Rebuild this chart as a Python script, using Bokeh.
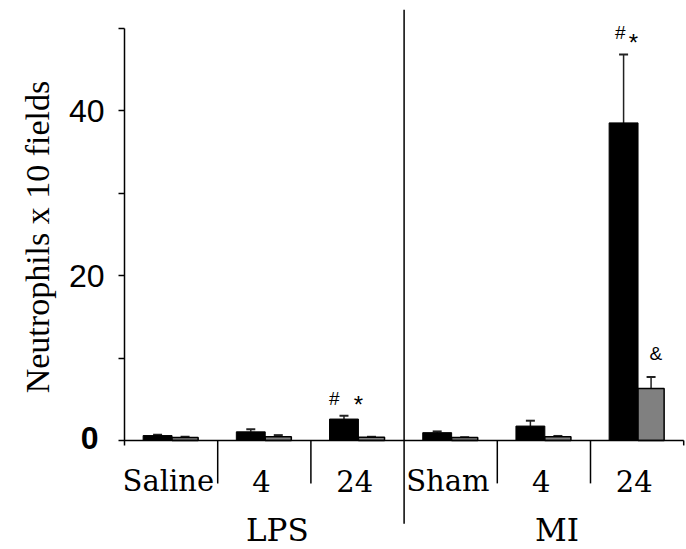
from bokeh.plotting import figure
from bokeh.models import Range1d, FixedTicker, Whisker, TeeHead, ColumnDataSource
from bokeh.embed import file_html
from bokeh.resources import INLINE
from bokeh.core.properties import value

# ---- data ----
categories = ["Saline", "4", "24", "Sham", "4", "24"]
treatments = ["LPS", "MI"]
treatment_groups = [[0, 1, 2], [3, 4, 5]]
black_vals = [0.6, 1.05, 2.6, 0.95, 1.75, 38.5]
black_err = [0.1, 0.3, 0.4, 0.15, 0.65, 8.3]
grey_vals = [0.35, 0.45, 0.4, 0.35, 0.45, 6.3]
grey_err = [0.1, 0.2, 0.05, 0.05, 0.1, 1.4]
y_ticks = [0, 10, 20, 30, 40, 50]
y_tick_labels = {20: "20", 40: "40"}
y_label = "Neutrophils x 10 fields"
# significance marks: text, category index, x offset within category, y value
marks_text = ["#", "*", "#", "*", "&"]
marks_cat = [2, 2, 5, 5, 5]
marks_dx = [0.25, 0.51, 0.32, 0.46, 0.70]
marks_y = [5.1, 4.4, 49.5, 48.3, 10.6]
marks_size = ["19px", "24px", "19px", "24px", "19px"]

SERIF = "'Liberation Serif', 'Times New Roman', Times, 'DejaVu Serif', serif"
SANS = "'Liberation Sans', Arial, Helvetica, sans-serif"
SERIF_GLYPH = "DejaVu Serif"

# ---- layout constants ----
W, H = 686, 549
LEFT = 124
GROUP_PX = 93.2
PX_PER_UNIT = 8.25
ZERO_PX = 440
BLACK_W, GREY_W = 0.31, 0.28
BAR_START = 0.2

x_start = -LEFT / GROUP_PX
x_end = (W - LEFT) / GROUP_PX
y_top = ZERO_PX / PX_PER_UNIT
y_bot = -(H - ZERO_PX) / PX_PER_UNIT

p = figure(width=W, height=H, output_backend="svg", toolbar_location=None,
           x_range=Range1d(x_start, x_end), y_range=Range1d(y_bot, y_top),
           x_axis_type=None, min_border_left=0, min_border_right=0,
           min_border_top=0, min_border_bottom=0)
p.outline_line_color = None
p.grid.visible = False

n = len(categories)
bx = [i + BAR_START + BLACK_W / 2 for i in range(n)]
gx = [i + BAR_START + BLACK_W + GREY_W / 2 for i in range(n)]

p.vbar(x=bx, top=black_vals, bottom=0, width=BLACK_W, fill_color="black",
       line_color="black", line_width=1)
p.vbar(x=gx, top=grey_vals, bottom=0, width=GREY_W, fill_color="#808080",
       line_color="black", line_width=1.5)

for xs, vals, errs in ((bx, black_vals, black_err), (gx, grey_vals, grey_err)):
    src = ColumnDataSource(dict(base=xs, lower=vals,
                                upper=[v + e for v, e in zip(vals, errs)]))
    p.add_layout(Whisker(base="base", lower="lower", upper="upper", source=src,
                         dimension="height", line_color="#222222", line_width=1.5,
                         upper_head=TeeHead(size=9, line_color="#222222", line_width=2),
                         lower_head=None))

# horizontal axis line at zero with end tick
p.segment(x0=[0], y0=[0], x1=[n], y1=[0], line_color="black", line_width=1.5)
p.segment(x0=[n], y0=[0], x1=[n], y1=[-0.6], line_color="black", line_width=1.5)

# category separators
short_sep = [1, 2, 4, 5]
p.segment(x0=short_sep, y0=[0] * 4, x1=short_sep, y1=[-5.2] * 4,
          line_color="black", line_width=1.5)
p.segment(x0=[3], y0=[52.2], x1=[3], y1=[-10.1], line_color="black", line_width=1.5)

# category labels
p.text(x=[i + 0.47 for i in range(n)], y=[-4.95] * n, text=categories,
       text_font=value(SERIF_GLYPH), text_font_size="29px", text_align="center",
       text_baseline="middle", text_color="black")

# treatment labels
tx = [sum(g) / len(g) + 0.5 + 0.14 for g in treatment_groups]
p.text(x=tx, y=[-10.85] * 2, text=treatments,
       text_font=value(SERIF_GLYPH), text_font_size="31px",
       text_align="center", text_baseline="middle", text_color="black")

# significance marks
msrc = ColumnDataSource(dict(x=[c + d for c, d in zip(marks_cat, marks_dx)],
                             y=marks_y, text=marks_text, size=marks_size))
p.text(x="x", y="y", text="text", source=msrc, text_font=value(SANS),
       text_font_size="size", text_align="center", text_baseline="middle",
       text_color="black")

# y axis drawn at x = 0
ya = p.yaxis[0]
ya.fixed_location = 0
ya.ticker = FixedTicker(ticks=y_ticks)
ya.major_label_overrides = {t: y_tick_labels.get(t, "") for t in y_ticks}
ya.bounds = (-0.6, 50)
ya.axis_line_width = 1.5
ya.axis_line_color = "black"
ya.major_tick_out = 6
ya.major_tick_in = 0
ya.major_tick_line_width = 1.5
ya.minor_tick_line_color = None
ya.major_label_standoff = 14
ya.major_label_text_font = SANS
ya.major_label_text_font_size = "32px"
ya.major_label_text_color = "black"
ya.axis_label = y_label
ya.axis_label_text_font = SERIF
ya.axis_label_text_font_style = "normal"
ya.axis_label_text_font_size = "34px"
ya.axis_label_text_color = "black"
ya.axis_label_standoff = 10

# bold zero tick label
p.text(x=[-26 / GROUP_PX], y=[0.3], text=["0"], text_font=value(SANS),
       text_font_style="bold", text_font_size="32px", text_align="right",
       text_baseline="middle", text_color="black")

open("out.html", "w").write(file_html(p, INLINE))
